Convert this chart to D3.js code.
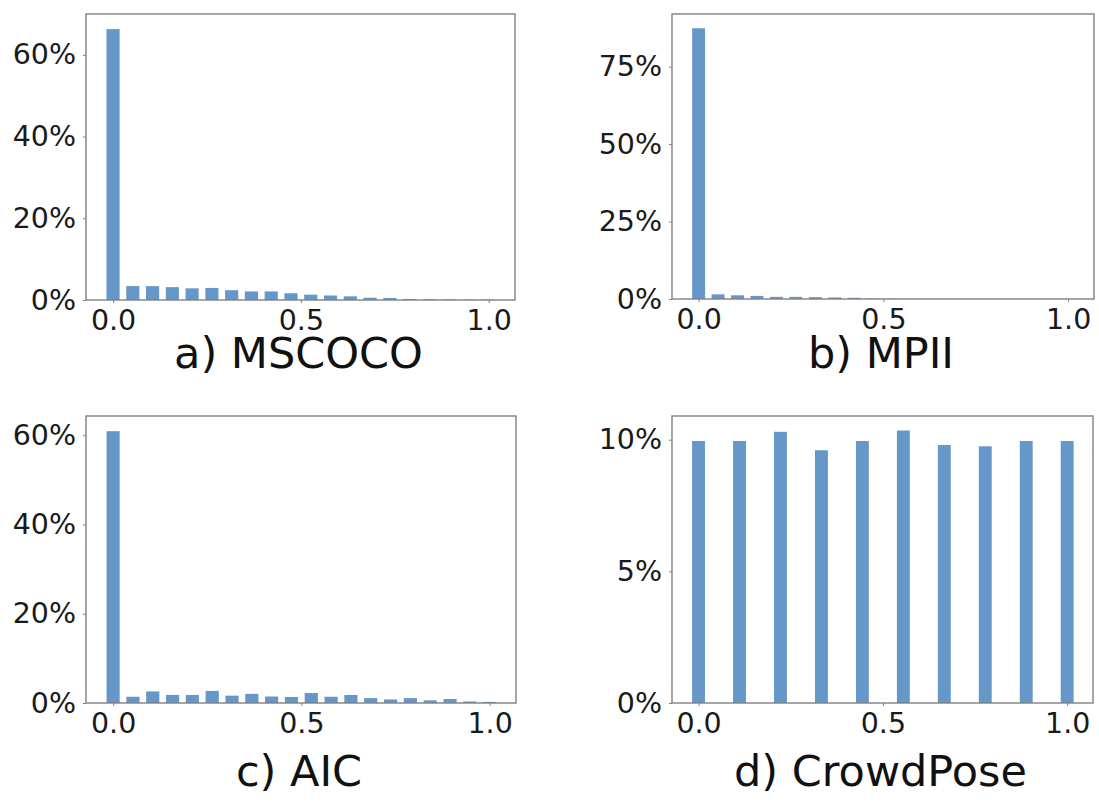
<!DOCTYPE html>
<html>
<head>
<meta charset="utf-8">
<script src="https://cdn.jsdelivr.net/npm/d3@7"></script>
<style>
  body { margin: 0; background: #fff; }
  svg { display: block; font-family: "DejaVu Sans", sans-serif; }
</style>
</head>
<body>
<div id="chart"></div>
<script>
// bin centres: 20 bins over [0, 1] for the keypoint datasets, 10 for CrowdPose
const bins20 = d3.range(20).map(i => i / 19);
const bins10 = d3.range(10).map(i => i / 9);

// share of images per crowd index bin (percent)
const mscocoValues = [66.3, 3.4, 3.4, 3.15, 2.85, 2.95, 2.4, 2.1, 2.1, 1.65, 1.3, 1.1, 0.9, 0.55, 0.5, 0.25, 0.2, 0.15, 0.1, 0.1];
const mpiiValues = [87.4, 1.5, 1.2, 1.0, 0.7, 0.7, 0.6, 0.5, 0.4, 0.15, 0.1, 0.05, 0.02, 0, 0, 0, 0, 0, 0, 0];
const aicValues = [60.9, 1.4, 2.6, 1.8, 1.8, 2.7, 1.65, 2.05, 1.45, 1.35, 2.25, 1.4, 1.8, 1.1, 0.8, 1.1, 0.6, 0.9, 0.35, 0.25];
const crowdposeValues = [9.95, 9.95, 10.3, 9.6, 9.95, 10.35, 9.8, 9.75, 9.95, 9.95];

const xTicks = [0, 0.5, 1.0];
const mscocoTicks = [0, 20, 40, 60];
const mpiiTicks = [0, 25, 50, 75];
const aicTicks = [0, 20, 40, 60];
const crowdposeTicks = [0, 5, 10];

const titles = ["a) MSCOCO", "b) MPII", "c) AIC", "d) CrowdPose"];

const width = 1099, height = 809;
const barColor = "#6697c9";
const spineColor = "#808080";

// box = [left, top, right, bottom] of each plot frame, ty = title baseline
const panels = [
  {title: titles[0], bins: bins20, values: mscocoValues, ticks: mscocoTicks, ymax: 70,   box: [86, 14, 515, 300],   ty: 368},
  {title: titles[1], bins: bins20, values: mpiiValues, ticks: mpiiTicks, ymax: 92,       box: [672, 14, 1094, 299], ty: 368},
  {title: titles[2], bins: bins20, values: aicValues, ticks: aicTicks, ymax: 64.3,       box: [86, 416, 516, 703],  ty: 786},
  {title: titles[3], bins: bins10, values: crowdposeValues, ticks: crowdposeTicks, ymax: 10.9, box: [672, 416, 1093, 703], ty: 786},
];

const svg = d3.select("#chart").append("svg")
  .attr("width", width)
  .attr("height", height);

panels.forEach(p => {
  const [x0, y0, x1, y1] = p.box;
  const w = x1 - x0, h = y1 - y0;
  const barW = 0.035;

  const x = d3.scaleLinear().domain([-0.072, 1.07]).range([0, w]);
  const y = d3.scaleLinear().domain([0, p.ymax]).range([h, 0]);

  const g = svg.append("g").attr("transform", `translate(${x0},${y0})`);

  g.selectAll("rect.bar")
    .data(p.values.map((v, i) => ({x: p.bins[i], v: v})))
    .join("rect")
    .attr("class", "bar")
    .attr("x", d => x(d.x - barW / 2))
    .attr("width", d => x(d.x + barW / 2) - x(d.x - barW / 2))
    .attr("y", d => y(d.v))
    .attr("height", d => h - y(d.v))
    .attr("fill", barColor);

  // frame
  g.append("rect")
    .attr("width", w).attr("height", h)
    .attr("fill", "none")
    .attr("stroke", spineColor)
    .attr("stroke-width", 1.4);

  const yAxis = g.append("g")
    .call(d3.axisLeft(y).tickValues(p.ticks).tickFormat(d => d + "%").tickSize(3).tickPadding(7));
  const xAxis = g.append("g")
    .attr("transform", `translate(0,${h})`)
    .call(d3.axisBottom(x).tickValues(xTicks).tickFormat(d3.format(".1f")).tickSize(3).tickPadding(7));

  [yAxis, xAxis].forEach(a => {
    a.select(".domain").remove();
    a.selectAll(".tick line").attr("stroke", spineColor);
    a.selectAll(".tick text")
      .attr("fill", "#1a1a1a")
      .style("font-size", "28.5px")
      .style("font-family", "DejaVu Sans, sans-serif");
  });

  svg.append("text")
    .attr("x", x0 + w / 2 - 2)
    .attr("y", p.ty)
    .attr("text-anchor", "middle")
    .attr("fill", "#111")
    .style("font-size", "43px")
    .text(p.title);
});
</script>
</body>
</html>
